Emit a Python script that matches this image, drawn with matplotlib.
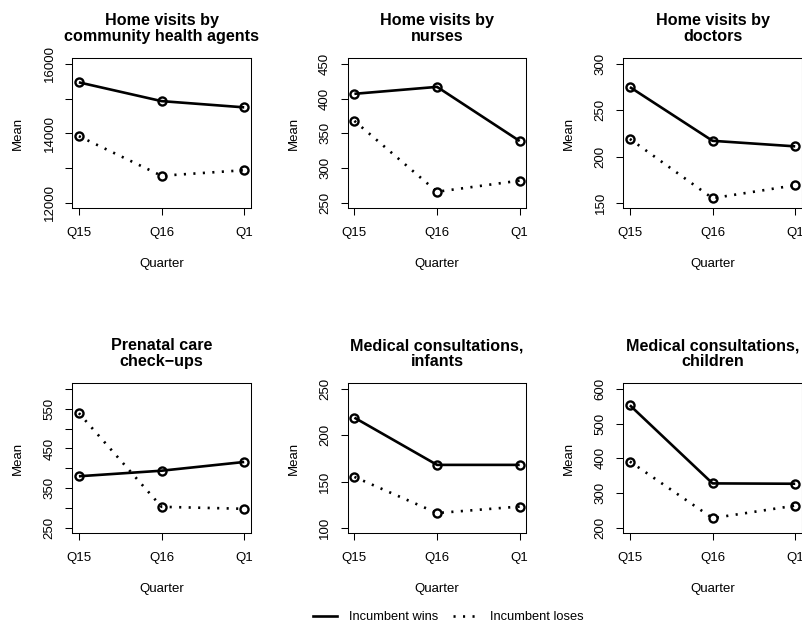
import numpy as np
import matplotlib
matplotlib.use('Agg')
import matplotlib.pyplot as plt
from matplotlib.lines import Line2D

plt.rcParams['font.family'] = ['Liberation Sans', 'DejaVu Sans']

quarters = ['Q15', 'Q16', 'Q1']

titles = ['Home visits by\ncommunity health agents',
          'Home visits by\nnurses',
          'Home visits by\ndoctors',
          'Prenatal care\ncheck\u2212ups',
          'Medical consultations,\ninfants',
          'Medical consultations,\nchildren']

# mean per quarter, incumbent wins / incumbent loses
wins_cha = [15470, 14930, 14750]
loses_cha = [13920, 12780, 12940]
wins_nurse = [407, 417, 339]
loses_nurse = [368, 266, 282]
wins_doc = [275, 217, 211]
loses_doc = [219, 155, 169]
wins_prenatal = [380, 394, 416]
loses_prenatal = [539, 303, 298]
wins_infant = [219, 168, 168]
loses_infant = [155, 116, 123]
wins_child = [553, 328, 327]
loses_child = [391, 228, 264]

wins = [wins_cha, wins_nurse, wins_doc, wins_prenatal, wins_infant, wins_child]
loses = [loses_cha, loses_nurse, loses_doc, loses_prenatal, loses_infant, loses_child]

# y axis ticks (lo, hi, step) and which ticks get a label
y_ticks = [(12000, 16000, 1000), (250, 450, 50), (150, 300, 50),
           (250, 600, 50), (100, 250, 50), (200, 600, 100)]
y_labelled = [[12000, 14000, 16000], None, None,
              [250, 350, 450, 550], None, None]

W, H = 802, 624
col_left = [72.3, 347.8, 623.3]
row_top = [58.4, 383.4]
box_w, box_h = 178.5, 150.0

DOTTED = (0, (0.8, 2.8))
LW = 1.9


def r_lim(lo, hi):
    pad = 0.04 * (hi - lo)
    return lo - pad, hi + pad


def draw_panel(ax, i):
    x = np.arange(1, len(quarters) + 1)
    ax.plot(x, wins[i], color='black', lw=LW, marker='o', ms=5.8,
            mfc='none', mew=1.7, solid_capstyle='butt')
    ax.plot(x, loses[i], color='black', lw=LW, ls=DOTTED, marker='o', ms=5.8,
            mfc='none', mew=1.7)

    ax.set_xlim(*r_lim(1, 3))
    lo, hi, step = y_ticks[i]
    ax.set_ylim(*r_lim(lo, hi))

    ax.set_xticks(x)
    ax.set_xticklabels(quarters)
    ticks = np.arange(lo, hi + step / 2, step)
    ax.set_yticks(ticks)
    keep = y_labelled[i]
    labels = []
    for t in ticks:
        if keep is None or t in keep:
            labels.append('%d' % t)
        else:
            labels.append('')
    ax.set_yticklabels(labels)

    ax.tick_params(direction='out', length=5, width=0.75, labelsize=9.5)
    ax.tick_params(axis='x', pad=8.5)
    ax.tick_params(axis='y', pad=7.0)
    for lab in ax.get_yticklabels():
        lab.set_rotation(90)
        lab.set_va('center')
        lab.set_ha('right')
    for sp in ax.spines.values():
        sp.set_linewidth(0.75)

    ax.set_title(titles[i], fontsize=11.6, fontweight='bold', pad=12.5,
                 linespacing=1.05)
    ax.set_xlabel('Quarter', fontsize=9.5)
    ax.xaxis.set_label_coords(0.5, -56.0 / box_h)
    ax.xaxis.label.set_va('center')
    ax.set_ylabel('Mean', fontsize=9.5)
    ax.yaxis.set_label_coords(-54.0 / box_w, 0.5)
    ax.yaxis.label.set_va('center')


fig = plt.figure(figsize=(W / 100.0, H / 100.0), dpi=100)

for i in range(6):
    r, c = divmod(i, 3)
    rect = [col_left[c] / W, 1 - (row_top[r] + box_h) / H, box_w / W, box_h / H]
    ax = fig.add_axes(rect)
    draw_panel(ax, i)

handles = [Line2D([], [], color='black', lw=LW),
           Line2D([], [], color='black', lw=LW, ls=DOTTED)]
fig.legend(handles, ['Incumbent wins', 'Incumbent loses'], loc='center',
           bbox_to_anchor=(448.0 / W, 1 - 617.0 / H), ncol=2, frameon=False,
           fontsize=9.3, handlelength=1.85, handletextpad=1.0,
           columnspacing=1.1)

fig.savefig('out.png', dpi=100)
